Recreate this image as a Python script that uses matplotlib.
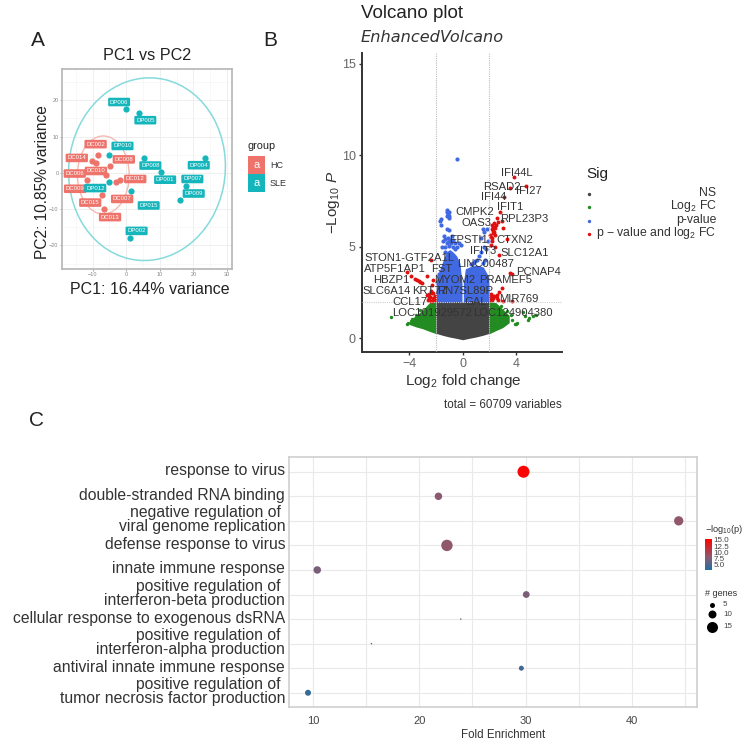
import numpy as np
import matplotlib
matplotlib.use("Agg")
import matplotlib.pyplot as plt
from matplotlib.patches import Ellipse, Rectangle
from matplotlib.colors import LinearSegmentedColormap, Normalize
from matplotlib.cm import ScalarMappable
from matplotlib.transforms import ScaledTranslation

plt.rcParams['font.family'] = ['Liberation Sans', 'DejaVu Sans']
plt.rcParams['mathtext.fontset'] = 'custom'
plt.rcParams['mathtext.rm'] = 'Liberation Sans'
plt.rcParams['mathtext.it'] = 'Liberation Sans:italic'
plt.rcParams['mathtext.bf'] = 'Liberation Sans:bold'
plt.rcParams['mathtext.default'] = 'regular'

# ---------- Panel A data ----------
hc_x = [-8.5, -10.3, -9.0, -4.8, -11.8, -6.0, -2.9, -1.7, -7.3, -6.5]
hc_y = [4.9, 3.2, 2.6, 1.8, -2.1, -0.7, -2.6, -2.0, -6.2, -10.0]
sle_x = [0.0, 3.9, -5.0, 5.4, 10.5, 23.4, 17.8, 16.0, -5.0, 1.4, 1.2]
sle_y = [17.5, 16.6, 4.9, 4.2, 0.1, 4.0, -3.6, -7.5, -2.5, -5.0, -18.0]
hc_names = ['DC002', 'DC014', 'DC008', 'DC006', 'DC010', 'DC012', 'DC009', 'DC015', 'DC007', 'DC013']
hc_lx = [-9.1, -14.7, -0.7, -15.3, -9.0, 2.7, -15.2, -10.7, -1.2, -4.8]
hc_ly = [7.9, 4.1, 3.7, -0.2, 0.5, -1.7, -4.4, -8.2, -7.2, -12.2]
sle_names = ['DP006', 'DP005', 'DP010', 'DP008', 'DP001', 'DP004', 'DP007', 'DP009', 'DP012', 'DP015', 'DP002']
sle_lx = [-2.1, 5.7, -1.1, 7.2, 11.6, 21.6, 19.7, 20.1, -9.2, 6.7, 3.1]
sle_ly = [19.5, 14.5, 7.4, 2.0, -1.9, 2.1, -1.7, -5.7, -4.2, -9.0, -16.0]

# ---------- Panel B data ----------
ns_x = [-2, -1.5, -1, -0.5, 0, 0.5, 1, 1.5, 2]
ns_lo = [0.27, 0.16, 0.07, 0.0, -0.08, 0.0, 0.07, 0.16, 0.27]
ns_hi = [1.98] * 9
bl_lx = [-2, -1.8, -1.6, -1.4, -1.2, -0.95, -0.7, -0.45, -0.2, -0.05]
bl_lt = [3.1, 3.6, 4.0, 4.4, 4.75, 4.85, 4.7, 4.5, 4.1, 3.0]
bl_rx = [0.05, 0.2, 0.68, 1.1, 1.55, 1.93, 2.0]
bl_rt = [3.0, 3.8, 3.95, 4.0, 3.9, 3.4, 2.8]
gl_x = [-4.0, -3.5, -3.0, -2.5, -2.0]
gl_lo = [0.75, 0.62, 0.52, 0.38, 0.25]
gl_hi = [1.0, 1.25, 1.55, 1.95, 2.0]
gr_x = [2.0, 2.5, 3.0, 3.5]
gr_lo = [0.25, 0.42, 0.58, 0.85]
gr_hi = [2.0, 1.95, 1.6, 1.25]
green_x = [-5.4, -4.2, -4.1, -3.8, -3.5, -3.2, 3.7, 3.9, 4.0, 4.1, 3.6, 4.7, 5.0, 4.9, 5.3, 5.5, 4.5, 3.3, 2.9]
green_y = [1.18, 0.8, 0.85, 1.05, 1.25, 1.55, 1.0, 0.8, 0.78, 0.82, 1.3, 1.2, 1.1, 1.0, 1.2, 1.3, 1.45, 1.5, 1.75]
blue_x = [-0.43, -1.2, -1.1, -1.0, -1.0, -1.2, -1.15, -1.05, -1.6, -1.7, -1.6, -1.2, -1.0, -1.4, -1.1, -0.8,
          -1.5, -1.2, -0.9, -0.6, -0.3, -1.3, -1.0, -0.75, 1.5, 1.6, 1.4, 1.8, 1.9, 1.6, 1.1, 0.9, 1.25, -0.1,
          -1.35, -1.55, -0.95, -0.7, -0.45, 1.35, 1.7, 1.5, 1.75, 0.8, 0.6, -1.3, -1.1, -0.6, -1.8, -1.9]
blue_y = [9.82, 6.9, 6.8, 6.9, 6.7, 6.7, 7.0, 6.6, 6.5, 6.4, 6.2, 6.0, 5.9, 5.6, 5.5, 5.6,
          5.3, 5.2, 5.2, 5.2, 5.2, 5.0, 5.05, 5.0, 6.0, 5.8, 5.5, 6.0, 5.3, 5.0, 4.3, 4.2, 4.5, 5.1,
          5.45, 5.0, 5.4, 5.4, 5.0, 4.7, 4.3, 4.1, 4.9, 4.1, 4.05, 4.7, 5.25, 4.9, 3.5, 3.1]
red_x = [3.86, 3.56, 4.8, 3.08, 2.8, 2.55, 2.93, 3.06, 2.18, 2.43, 2.3, 2.05, 2.43, 2.18, 3.3, 2.1, 2.43, 2.7,
         3.56, 3.7, 2.93, 2.76, 2.55, 2.1, 2.3, 2.68, 3.05, 3.7, 2.2, 2.35, 2.15, 2.6,
         2.25, 2.35, 2.5, 2.62, 2.2, 2.3, 2.12, 2.2, 2.38, 2.1, 2.25,
         -2.38, -4.2, -3.9, -3.46, -3.3, -3.08, -2.66, -2.2, -2.33, -2.45, -2.25, -2.6, -2.4, -2.1, -2.1, -2.3, -2.55,
         -2.2, -2.35, -2.5, -2.65, -2.3, -2.15, -3.6, -3.2]
red_y = [8.82, 8.2, 8.35, 7.75, 6.88, 6.57, 6.44, 6.02, 6.2, 6.02, 5.84, 5.66, 5.66, 5.47, 5.44, 5.1, 5.0, 4.56,
         3.56, 3.52, 2.74, 2.55, 2.37, 2.24, 2.19, 2.1, 2.05, 2.06, 2.1, 2.3, 2.4, 2.2,
         6.1, 6.3, 6.2, 6.35, 5.95, 5.75, 5.55, 5.3, 5.8, 2.1, 2.3,
         4.29, 3.65, 3.41, 3.16, 3.12, 3.05, 3.41, 3.16, 2.92, 2.28, 2.19, 2.1, 2.05, 2.1, 2.3, 2.45, 2.4,
         2.5, 2.6, 2.2, 2.35, 2.05, 2.2, 3.22, 3.1]
gene_names = ['IFI44L', 'RSAD2', 'IFI27', 'IFI44', 'CMPK2', 'IFIT1', 'OAS3', 'RPL23P3', 'EPSTI1', 'CTXN2', 'IFIT3',
              'SLC12A1', 'STON1-GTF2A1L', 'LINC00487', 'ATP5F1AP1', 'FST', 'PCNAP4', 'HBZP1', 'MYOM2', 'PRAMEF5',
              'SLC6A14', 'KRT77', 'RN7SL89P', 'MIR769', 'CCL17', 'GAL', 'LOC101929572', 'LOC124904380']
gene_x = [4.1, 2.95, 4.95, 2.3, 0.93, 3.56, 1.05, 4.6, 0.43, 3.93, 1.55,
          4.64, -4.0, 1.73, -5.09, -1.58, 5.74, -5.4, -0.58, 3.23,
          -5.7, -2.5, 0.18, 4.19, -3.96, 1.0, -2.33, 3.81]
gene_y = [9.03, 8.28, 8.03, 7.72, 6.9, 7.2, 6.3, 6.51, 5.38, 5.38, 4.78,
          4.65, 4.38, 4.07, 3.78, 3.81, 3.61, 3.19, 3.19, 3.16,
          2.57, 2.57, 2.57, 2.14, 2.0, 2.0, 1.39, 1.39]

# ---------- Panel C data ----------
terms = ['response to virus', 'double-stranded RNA binding',
         'negative regulation of\u00a0\nviral genome replication', 'defense response to virus',
         'innate immune response', 'positive regulation of\u00a0\ninterferon-beta production',
         'cellular response to exogenous dsRNA', 'positive regulation of\u00a0\ninterferon-alpha production',
         'antiviral innate immune response', 'positive regulation of\u00a0\ntumor necrosis factor production']
fold = [29.8, 21.8, 44.4, 22.6, 10.4, 30.06, 23.9, 15.5, 29.6, 9.53]
genes = [17, 9, 12, 16, 9, 8, 1, 1, 5, 6]
logp = [15.0, 8.0, 8.2, 8.2, 7.2, 7.2, 6.5, 6.5, 4.6, 4.0]
legend_genes = [5, 10, 15]
size_genes = [1, 5, 6, 8, 9, 10, 12, 15, 16, 17]
size_px = [1.5, 5.0, 6.0, 6.8, 7.5, 8.0, 9.3, 11.0, 11.4, 12.0]

W, H = 749, 741
fig = plt.figure(figsize=(W / 100, H / 100), dpi=100)
fig.patch.set_facecolor('white')

def axpx(l, t, r, b, **kw):
    return fig.add_axes([l / W, 1 - b / H, (r - l) / W, (b - t) / H], **kw)

# overlay in pixel coordinates for titles and hand-keyed legends
ov = fig.add_axes([0, 0, 1, 1], zorder=20)
ov.set_xlim(0, W); ov.set_ylim(H, 0); ov.axis('off'); ov.patch.set_alpha(0)
def T(x, y, s, size, ha='center', va='center', color='#222222', **kw):
    return ov.text(x, y, s, fontsize=size, ha=ha, va=va, color=color, **kw)

T(38, 41, 'A', 15); T(270, 40, 'B', 15); T(37, 421, 'C', 15)

# ---------- Panel A ----------
HC, SLE = '#EE736B', '#14B6BC'
a = axpx(62, 69, 232, 269)
a.set_xlim(-19.1, 31.5); a.set_ylim(-26.5, 28.6)
a.set_xticks([-10, 0, 10, 20, 30]); a.set_yticks([-20, -10, 0, 10, 20])
a.set_xticks([-15, -5, 5, 15, 25], minor=True); a.set_yticks([-25, -15, -5, 5, 15, 25], minor=True)
a.grid(True, which='major', color='#ececec', lw=0.6); a.grid(True, which='minor', color='#f4f4f4', lw=0.4)
a.set_axisbelow(True)
a.tick_params(which='minor', length=0)
a.tick_params(which='major', labelsize=4, colors='#888888', length=1.5, width=0.5, pad=1)
for s in a.spines.values():
    s.set_color('#b5b5b5'); s.set_linewidth(1.2)
a.add_patch(Ellipse((6.2, 1.0), 46.5, 50.5, angle=-12, fill=False, ec='#86DADB', lw=1.1))
a.add_patch(Ellipse((-6.8, -0.6), 15.4, 21.5, angle=0, fill=False, ec='#F6B9B3', lw=1.0))
a.scatter(hc_x, hc_y, s=20, color=HC, zorder=3, lw=0)
a.scatter(sle_x, sle_y, s=20, color=SLE, zorder=3, lw=0)
for n, x, y in zip(hc_names, hc_lx, hc_ly):
    a.text(x, y, n, fontsize=4.3, color='white', ha='center', va='center', zorder=4, clip_on=False,
           bbox=dict(boxstyle='round,pad=0.3,rounding_size=0.2', fc=HC, ec='none'))
for n, x, y in zip(sle_names, sle_lx, sle_ly):
    a.text(x, y, n, fontsize=4.3, color='white', ha='center', va='center', zorder=5,
           bbox=dict(boxstyle='round,pad=0.3,rounding_size=0.2', fc=SLE, ec='none'))
T(147, 55, 'PC1 vs PC2', 11.6)
T(150, 290, 'PC1: 16.44% variance', 11.5)
T(43, 182, 'PC2: 10.85% variance', 11.2, rotation=90)
T(248, 146, 'group', 7.8, ha='left')
for yy, c, lab in [(156, HC, 'HC'), (174, SLE, 'SLE')]:
    ov.add_patch(Rectangle((248, yy), 17, 18, fc=c, ec='none'))
    T(256.5, yy + 9, 'a', 8, color='white')
    T(270, yy + 10, lab, 6.5, ha='left', color='#333333')

# ---------- Panel B ----------
b = axpx(362, 53, 562, 352)
b.set_xlim(-7.57, 7.47); b.set_ylim(-0.75, 15.6)
b.set_xticks([-4, 0, 4]); b.set_yticks([0, 5, 10, 15])
for s in ['top', 'right']:
    b.spines[s].set_visible(False)
for s in ['left', 'bottom']:
    b.spines[s].set_color('#333333'); b.spines[s].set_linewidth(1.4)
b.tick_params(labelsize=9, labelcolor='#666666', color='#333333', length=2.5, width=1, pad=2)
b.fill_between(gl_x, gl_lo, gl_hi, color='#228B22', lw=0, zorder=2)
b.fill_between(gr_x, gr_lo, gr_hi, color='#228B22', lw=0, zorder=2)
b.scatter(green_x, green_y, s=6, color='#228B22', lw=0, zorder=2)
b.fill_between(bl_lx, 1.9, bl_lt, color='#4169E1', lw=0, zorder=2)
b.fill_between(bl_rx, 1.9, bl_rt, color='#4169E1', lw=0, zorder=2)
b.scatter(blue_x, blue_y, s=9, color='#4169E1', lw=0, zorder=2)
b.fill_between(ns_x, ns_lo, ns_hi, color='#444444', lw=0, zorder=3)
b.scatter(red_x, red_y, s=8, color='#E01010', lw=0, zorder=4)
for v in (-2, 2):
    b.axvline(v, color='#bdbdbd', lw=0.8, ls=(0, (1, 1)), zorder=5)
b.axhline(2, color='#cfcfcf', lw=0.8, ls=(0, (1, 1)), zorder=5)
for n, x, y in zip(gene_names, gene_x, gene_y):
    b.text(x, y, n, fontsize=8.1, color='#333333', ha='center', va='center', zorder=6, clip_on=False)
T(361, 14, 'Volcano plot', 13.5, ha='left')
T(361, 37, 'EnhancedVolcano', 11.6, ha='left', style='italic', family='DejaVu Sans', color='#333333')
T(463, 381, r'$Log_{2}$ fold change', 11, color='#333333')
T(333, 202, r'$-Log_{10}$ $\mathit{P}$', 11, rotation=90, color='#333333')
T(562, 405, 'total = 60709 variables', 8.4, ha='right', color='#333333')
T(586, 174, 'Sig', 11, ha='left')
for yy, c, lab in [(193, '#444444', 'NS'), (206.5, '#228B22', r'$Log_{2}$ FC'), (220, '#4169E1', 'p-value'),
                   (233, '#E01010', r'p $-$ value and $log_{2}$ FC')]:
    ov.scatter([589], [yy + 0.5], s=6, color=c, lw=0)
    T(716.5, yy, lab, 8.8, ha='right', color='#333333')

# ---------- Panel C ----------
cmap = LinearSegmentedColormap.from_list('fe', [(0, '#1F6FA0'), (0.41, '#8C5A70'), (1, '#FF0000')])
norm = Normalize(3.0, 15.3)
c = axpx(289.3, 457, 697.3, 707)
ypos = np.arange(len(terms))
c.set_xlim(7.77, 46.15); c.set_ylim(9.58, -0.6)
c.set_xticks([10, 20, 30, 40]); c.set_xticks([15, 25, 35, 45], minor=True)
c.set_yticks(ypos); c.set_yticklabels(terms, fontsize=11.3, color='#333333', linespacing=0.95, multialignment='right')
c.grid(True, which='both', color='#e9e9e9', lw=0.8); c.set_axisbelow(True)
c.tick_params(which='both', length=0)
c.tick_params(axis='x', labelsize=8, labelcolor='#444444', pad=6.5)
c.tick_params(axis='y', pad=3)
up = ScaledTranslation(0, 2.5 / 100, fig.dpi_scale_trans)
for lab in c.get_yticklabels():
    lab.set_transform(lab.get_transform() + up)
for s in c.spines.values():
    s.set_color('#cccccc'); s.set_linewidth(1.1)
diam_px = np.interp(genes, size_genes, size_px)
c.scatter(fold, ypos, s=(diam_px * 0.72) ** 2, c=logp, cmap=cmap, norm=norm, lw=0, zorder=3)
T(502.7, 735, 'Fold Enrichment', 8.3, color='#333333')
T(705, 529, r'$-log_{10}$(p)', 6.7, ha='left', color='#333333')
cax = axpx(705, 539, 711.7, 570)
cb = fig.colorbar(ScalarMappable(norm=norm, cmap=cmap), cax=cax, ticks=[5, 7.5, 10, 12.5, 15])
cb.outline.set_visible(False)
cb.ax.set_yticklabels(['5.0', '7.5', '10.0', '12.5', '15.0'])
cb.ax.tick_params(labelsize=5.8, length=0, pad=1.5, labelcolor='#444444')
T(705, 593, '# genes', 6.5, ha='left', color='#333333')
leg_d = np.interp(legend_genes, size_genes, size_px)
for yy, g, d in zip([605, 614, 626.7], legend_genes, leg_d):
    ov.scatter([711.7], [yy], s=(d * 0.72) ** 2, color='black', lw=0)
    T(723, yy, str(g), 5.8, ha='left', color='#444444')
ov.set_xlim(0, W); ov.set_ylim(H, 0)

fig.savefig('out.png', dpi=100)
